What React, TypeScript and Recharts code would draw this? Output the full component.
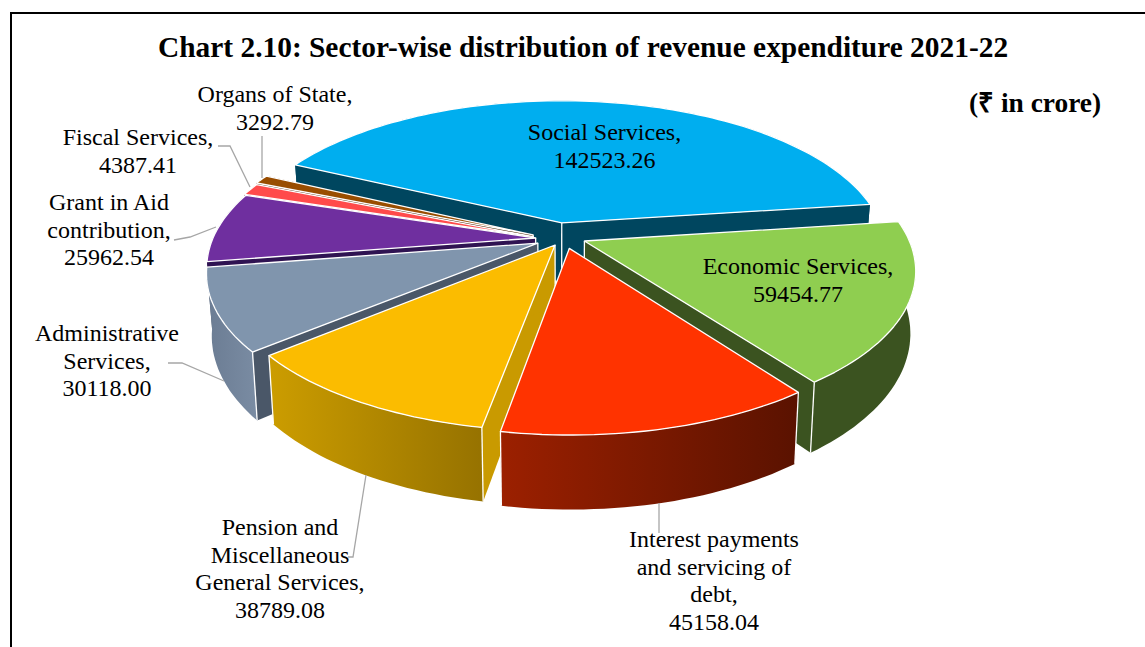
import { PieChart, Pie } from 'recharts'

const SECTORS = [
  'Social Services',
  'Economic Services',
  'Interest payments and servicing of debt',
  'Pension and Miscellaneous General Services',
  'Administrative Services',
  'Grant in Aid contribution',
  'Fiscal Services',
  'Organs of State',
]
const AMOUNTS = [142523.26, 59454.77, 45158.04, 38789.08, 30118.0, 25962.54, 4387.41, 3292.79]
const AMOUNT_TEXT = ['142523.26', '59454.77', '45158.04', '38789.08', '30118.00', '25962.54', '4387.41', '3292.79']

// back to front, because later slices cover the walls of earlier ones
const PAINT_ORDER = [0, 7, 6, 5, 4, 1, 3, 2]

const TOP_COLORS = ['#00AEEF', '#8FCE50', '#FF3300', '#FBBC00', '#8095AD', '#6F2F9F', '#FF4B4B', '#994D00']
const CUT_COLORS = ['#00465F', '#3B5320', '#5A1200', '#C99A00', '#4A5768', '#2F1352', '#5A1A1A', '#4A2500']
const WALL_LEFT = ['#00465F', '#3B5320', '#9C2000', '#CC9D00', '#6B7C93', '#2F1352', '#5A1A1A', '#4A2500']
const WALL_RIGHT = ['#00465F', '#3B5320', '#5A1200', '#967200', '#7A8CA3', '#2F1352', '#5A1A1A', '#4A2500']

const LABEL_LINES = [
  ['Social Services,'],
  ['Economic Services,'],
  ['Interest payments', 'and servicing of', 'debt,'],
  ['Pension and', 'Miscellaneous', 'General Services,'],
  ['Administrative', 'Services,'],
  ['Grant in Aid', 'contribution,'],
  ['Fiscal Services,'],
  ['Organs of State,'],
]
// hand placed, same as the data labels were dragged in the original
const LABEL_X = [604.5, 798, 714, 280, 107, 109, 138, 275]
const LABEL_Y = [140, 274, 547, 535, 341, 210, 145, 102]
const LEADERS = [
  '',
  '',
  '659,503 659,533',
  '366,475 353,557 348,557',
  '168,363 182,363 224,381',
  '174,240 190,237 216,227',
  '218,146 230,146 250,187',
  '262,136 262,178',
]
// small per-slice nudges on top of the shared explosion
const NUDGE_X = [-2.5, -1, 3, 9, 3, 3, -1, -2]
const NUDGE_Y = [-1, 0, 0, -2, 2, 3, 5, 4]

const data = SECTORS.map((name, i) => ({ name, value: AMOUNTS[i] }))

const WIDTH = 1145
const HEIGHT = 647
const CX = 560
const CY = 236
const RX = 323
const RY = 148
const PERSPECTIVE = 0.18
const DEPTH = 60
const SHRINK = 0.015
const EXPLODE = 0.085
const LABEL_FONT = 24
const LINE_GAP = 27.7

const serif = '"Liberation Serif", "Times New Roman", serif'

const project = (u: number, v: number, z: number) => {
  const w = 1 - PERSPECTIVE * v
  const x = CX + ((RX * u) / w) * (1 - SHRINK * z)
  const y = CY + (RY * v) / w + (DEPTH * z) / w
  return [x, y]
}

const toPath = (pts: number[][]) =>
  'M' + pts.map((p) => p[0].toFixed(1) + ' ' + p[1].toFixed(1)).join('L') + 'Z'

const makeShape = (index: number) => (props: any) => {
  if (props.name !== SECTORS[index]) return <g />
  const rad = Math.PI / 180
  const mid = ((props.startAngle + props.endAngle) / 2) * rad
  const ox = EXPLODE * Math.cos(mid)
  const oy = -EXPLODE * Math.sin(mid)
  const at = (deg: number, z: number) =>
    project(ox + Math.cos(deg * rad), oy - Math.sin(deg * rad), z)
  const steps = Math.ceil(Math.abs(props.endAngle - props.startAngle) / 1.5)
  const angles: number[] = []
  for (let s = 0; s <= steps; s++) {
    angles.push(props.startAngle + ((props.endAngle - props.startAngle) * s) / steps)
  }
  const apexTop = project(ox, oy, 0)
  const apexBottom = project(ox, oy, 1)
  const rimTop = angles.map((a) => at(a, 0))
  const rimBottom = angles.map((a) => at(a, 1))
  const first = 0
  const last = angles.length - 1
  const edge = (i: number) => [apexTop, rimTop[i], rimBottom[i], apexBottom]
  const gradId = 'wall-' + index
  const cornerLine = (a: number[], b: number[]) => (
    <line x1={a[0]} y1={a[1]} x2={b[0]} y2={b[1]} stroke="#fff" strokeWidth={1.3} />
  )
  // a corner only shows on the side of the pie facing the viewer
  const facesViewer = (deg: number) => -Math.sin(deg * rad) > 0.3
  return (
    <g transform={`translate(${NUDGE_X[index]} ${NUDGE_Y[index]})`}>
      <defs>
        <linearGradient id={gradId} x1="0" y1="0" x2="1" y2="0">
          <stop offset="0%" stopColor={WALL_LEFT[index]} />
          <stop offset="100%" stopColor={WALL_RIGHT[index]} />
        </linearGradient>
      </defs>
      <path d={toPath(edge(first))} fill={CUT_COLORS[index]} />
      <path d={toPath(edge(last))} fill={CUT_COLORS[index]} />
      <path d={toPath([...rimTop, ...[...rimBottom].reverse()])} fill={`url(#${gradId})`} />
      {cornerLine(apexTop, apexBottom)}
      {facesViewer(angles[first]) && cornerLine(rimTop[first], rimBottom[first])}
      {facesViewer(angles[last]) && cornerLine(rimTop[last], rimBottom[last])}
      <path
        d={toPath([apexTop, ...rimTop])}
        fill={TOP_COLORS[index]}
        stroke="#fff"
        strokeWidth={1.3}
        strokeLinejoin="round"
      />
    </g>
  )
}

const renderLabel = (props: any) => {
  const i = SECTORS.indexOf(props.name)
  if (i < 0) return <g />
  const lines = [...LABEL_LINES[i], AMOUNT_TEXT[i]]
  return (
    <g>
      {LEADERS[i] && <polyline points={LEADERS[i]} fill="none" stroke="#A6A6A6" strokeWidth={1.3} />}
      {lines.map((t, n) => (
        <text
          key={n}
          x={LABEL_X[i]}
          y={LABEL_Y[i] + n * LINE_GAP}
          textAnchor="middle"
          fontFamily={serif}
          fontSize={LABEL_FONT}
          fill="#000"
        >
          {t}
        </text>
      ))}
    </g>
  )
}

export default function App() {
  return (
    <div style={{ position: 'absolute', left: 0, top: 0, width: WIDTH, height: HEIGHT, overflow: 'hidden', background: '#fff' }}>
      {/* only the top and left of the frame fall inside the picture */}
      <div style={{ position: 'absolute', left: 10, top: 12, width: WIDTH, height: HEIGHT, borderTop: '2px solid #000', borderLeft: '2px solid #000' }} />
      <div style={{ position: 'absolute', left: 158, top: 31, fontFamily: serif, fontWeight: 700, fontSize: 29.4, whiteSpace: 'nowrap', color: '#000' }}>
        Chart 2.10: Sector-wise distribution of revenue expenditure 2021-22
      </div>
      <div style={{ position: 'absolute', left: 969, top: 83, fontFamily: serif, fontWeight: 700, fontSize: 27.4, whiteSpace: 'nowrap', color: '#000' }}>
        (₹ in crore)
      </div>
      <div style={{ position: 'absolute', left: 0, top: 0 }}>
        <PieChart width={WIDTH} height={HEIGHT} margin={{ top: 0, right: 0, bottom: 0, left: 0 }}>
          {PAINT_ORDER.map((idx, n) => (
            <Pie
              key={idx}
              data={data}
              dataKey="value"
              nameKey="name"
              cx={CX}
              cy={CY}
              outerRadius={100}
              startAngle={154.3}
              endAngle={-205.7}
              paddingAngle={0}
              shape={makeShape(idx)}
              label={n === PAINT_ORDER.length - 1 ? renderLabel : false}
              labelLine={false}
              isAnimationActive={false}
              rootTabIndex={-1}
            />
          ))}
        </PieChart>
      </div>
    </div>
  )
}
